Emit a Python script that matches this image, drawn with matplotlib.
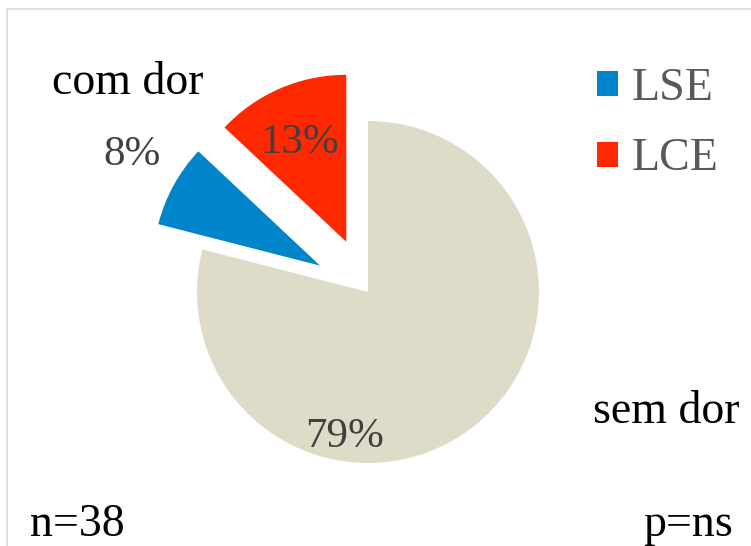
import matplotlib
matplotlib.use("Agg")
import matplotlib.pyplot as plt
from matplotlib.patches import Rectangle

categories = ["sem dor", "LSE", "LCE"]
values = [79, 8, 13]
colors = ["#DEDBC8", "#0084CA", "#FF2800"]
explode_frac = [0.0, 0.32, 0.32]
legend_labels = ["LSE", "LCE"]

W, H = 751, 546
fig = plt.figure(figsize=(W / 100, H / 100), dpi=100)
ax = fig.add_axes([0, 0, 1, 1])

font = "Liberation Serif"
cx, cy, r = 368, H - 292, 171

wedges, texts, autotexts = ax.pie(
    values, colors=colors, explode=[e * r for e in explode_frac], startangle=90, counterclock=False,
    center=(cx, cy), radius=r, autopct="%d%%", frame=True,
    textprops=dict(family=font, fontsize=31, color="#404040"),
    wedgeprops=dict(linewidth=0),
)
for w in wedges[1:]:
    w.set_radius(r - 4)
ax.set_xlim(0, W)
ax.set_ylim(0, H)
ax.set_aspect("equal")
ax.axis("off")

pct_pos = [(345, 437), (132, 155), (300, 143)]
for t, (x, y) in zip(autotexts, pct_pos):
    t.set_position((x, H - y))
    t.set_ha("center")
    t.set_va("center")

ax.text(128, H - 83, "com dor", family=font, fontsize=33, color="black", ha="center", va="center")
ax.text(666, H - 412, "sem dor", family=font, fontsize=33, color="black", ha="center", va="center")
ax.text(77, H - 525, "n=38", family=font, fontsize=33, color="black", ha="center", va="center")
ax.text(688, H - 525, "p=ns", family=font, fontsize=33, color="black", ha="center", va="center")

leg = ax.legend(wedges[1:], legend_labels, loc="upper left", bbox_to_anchor=(597 / W, 1 - 67 / H),
                frameon=False, prop=dict(family=font, size=33), labelcolor="#595959",
                handlelength=0.46, handleheight=0.46, handletextpad=0.3, labelspacing=0.62,
                borderpad=0, borderaxespad=0)

fig.patches.append(Rectangle((7 / W, -0.1), 1.2, 1 - 9 / H + 0.1, transform=fig.transFigure,
                             fill=False, edgecolor="#D9D9D9", linewidth=1.2))

fig.savefig("out.png", dpi=100)
